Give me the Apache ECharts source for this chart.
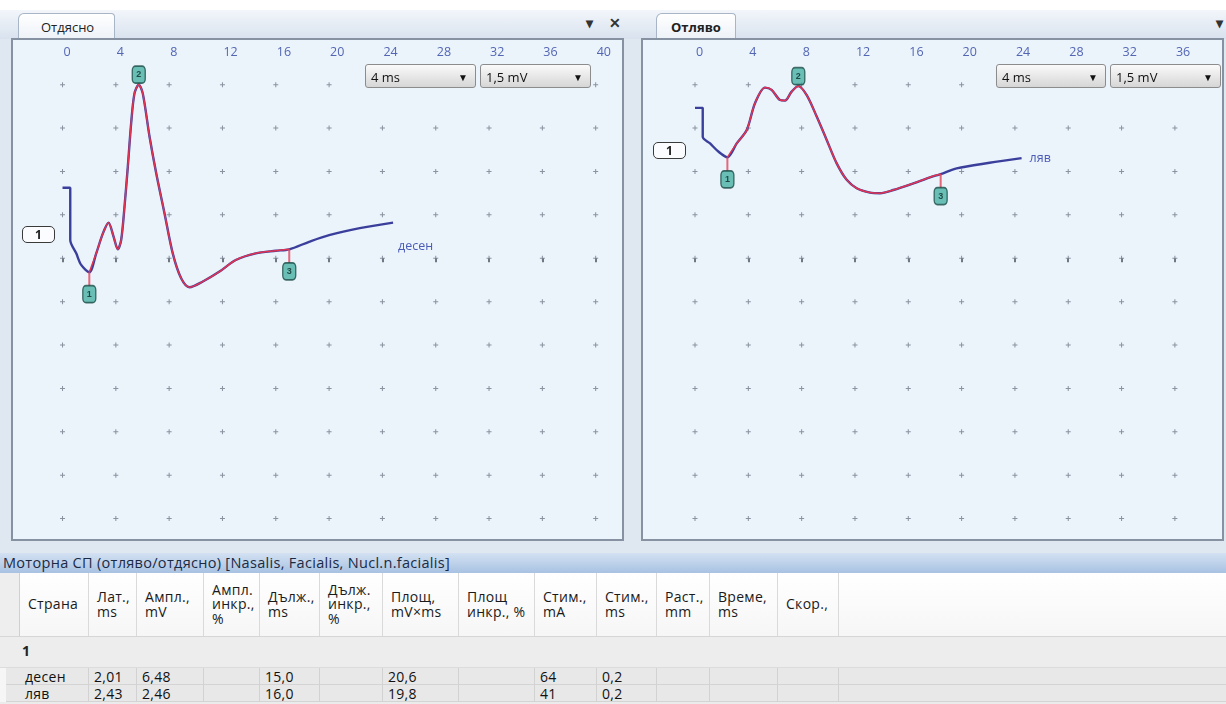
<!DOCTYPE html>
<html><head><meta charset="utf-8">
<script src="https://cdn.jsdelivr.net/npm/echarts@6/dist/echarts.min.js"></script>
<style>
body{margin:0;width:1226px;height:704px;overflow:hidden;position:relative;background:#fff;font-family:"Open Sans",sans-serif;}
.abs{position:absolute;}
#bg{left:0;top:10px;width:1226px;height:543px;background:#dfe7f1;}
#tabbar{left:0;top:10px;width:1226px;height:29px;background:linear-gradient(#f3f6fb,#d8e2ee);}
.tab{top:13px;height:26px;border:1px solid #a7b5c7;border-bottom:none;background:linear-gradient(#ffffff,#edf2f8);border-radius:6px 4px 0 0;font-size:13px;color:#222;line-height:26px;box-sizing:border-box;}
.icon{font-size:14px;color:#333;font-weight:bold;top:13px;}
#chart{left:0;top:0;width:1226px;height:545px;z-index:1;}
.dd{height:24px;border:1px solid #8c8c8c;border-radius:3px;background:linear-gradient(#fafafa,#d6d6d6);font-size:13px;color:#111;line-height:24px;box-sizing:border-box;padding-left:5px;z-index:3;}
.dd span{position:absolute;right:7px;top:0;font-size:10px;}
.lbl1{height:17px;border:1.5px solid #3a3a3a;border-radius:5px;background:#fafcff;font-size:12px;font-weight:bold;color:#222;text-align:center;line-height:15px;box-sizing:border-box;z-index:3;}
#hbar{left:0;top:553px;width:1226px;height:20px;background:linear-gradient(#d3e1f2,#a8c2e2);font-size:14.5px;letter-spacing:0.3px;color:#1b2a44;line-height:20px;padding-left:3px;box-sizing:border-box;white-space:nowrap;}
#thead{left:0;top:573px;width:1226px;height:64px;background:linear-gradient(#ffffff,#f6f6f6);border-bottom:1px solid #d6d6d6;box-sizing:border-box;}
#tbody{left:0;top:637px;width:1226px;height:67px;background:#ebebeb;}
.hc{top:0;height:63px;display:flex;align-items:center;white-space:pre-line;font-size:14px;letter-spacing:0.3px;line-height:14.5px;color:#1a1a1a;box-sizing:border-box;padding-left:8px;border-right:1px solid #dadada;}
.dc{height:17px;font-size:14px;letter-spacing:0.3px;line-height:17px;color:#111;padding-left:5px;box-sizing:border-box;border-right:1px solid #d2d2d2;white-space:nowrap;}
</style></head>
<body>
<div id="bg" class="abs"></div>
<div id="tabbar" class="abs"></div>
<div class="abs tab" style="left:18px;width:97px;padding-left:22px;">Отдясно</div>
<div class="abs icon" style="left:586px;">&#9662;</div>
<div class="abs icon" style="left:609px;">&#10005;</div>
<div class="abs tab" style="left:656px;width:80px;padding-left:14px;font-weight:bold;">Отляво</div>
<div class="abs icon" style="left:1216px;">&#9662;</div>
<div id="chart" class="abs"></div>
<div class="abs dd" style="left:365px;top:64px;width:111px;">4 ms<span>&#9660;</span></div>
<div class="abs dd" style="left:480px;top:64px;width:111px;">1,5 mV<span>&#9660;</span></div>
<div class="abs dd" style="left:996px;top:64px;width:110px;">4 ms<span>&#9660;</span></div>
<div class="abs dd" style="left:1110px;top:64px;width:111px;">1,5 mV<span>&#9660;</span></div>
<div class="abs lbl1" style="left:22px;top:226px;width:33px;">1</div>
<div class="abs lbl1" style="left:653px;top:142px;width:33px;">1</div>
<div id="hbar" class="abs"></div>
<div id="thead" class="abs"></div>
<div id="tbody" class="abs"></div>
<script>
// ---------- data ----------
const xTicks = [0, 4, 8, 12, 16, 20, 24, 28, 32, 36, 40];
const gridRowsMv = [6, 4.5, 3, 1.5, 0, -1.5, -3, -4.5, -6, -7.5, -9];
const rightColsMs = [0, 4, 8, 12, 16, 20, 24, 28, 32, 36];

const rightSideTime = [0, 0.58, 0.58, 1.03, 1.4, 2.01, 2.53, 3.03, 3.45, 3.83, 4.15, 4.4, 4.65, 4.9, 5.15, 5.4, 5.72, 6.02, 6.53, 7.03, 7.65, 8.27, 8.9, 9.53, 10.5, 11.78, 13.0, 14.5, 16.0, 17.01, 18.5, 20.0, 22.3, 24.8];
const rightSideMv   = [2.44, 2.44, 0.63, 0.17, -0.23, -0.48, 0.17, 0.86, 1.23, 0.75, 0.31, 0.63, 1.78, 3.17, 4.67, 5.7, 6.0, 5.7, 4.2, 2.94, 1.56, 0.17, -0.69, -1.0, -0.81, -0.46, -0.06, 0.17, 0.26, 0.31, 0.57, 0.8, 1.04, 1.23];
const leftSideTime  = [0, 0.58, 0.58, 1.13, 1.75, 2.43, 3.13, 3.88, 4.5, 5.25, 5.75, 6.38, 6.75, 7.25, 7.75, 8.38, 9.13, 9.88, 10.63, 11.38, 12.13, 13.13, 13.88, 14.88, 16.38, 17.63, 18.43, 19.63, 22.1, 24.5];
const leftSideMv    = [5.2, 5.2, 4.2, 3.97, 3.69, 3.49, 3.97, 4.43, 5.36, 5.9, 5.82, 5.47, 5.45, 5.76, 5.95, 5.64, 4.9, 4.09, 3.28, 2.71, 2.42, 2.27, 2.25, 2.36, 2.59, 2.8, 2.91, 3.11, 3.3, 3.46];

const markerNames = ['1', '2', '3'];
const rightMarkerTime = [2.01, 5.72, 17.01];
const rightMarkerMv   = [-0.48, 6.0, 0.31];
const leftMarkerTime  = [2.43, 7.75, 18.43];
const leftMarkerMv    = [3.49, 5.95, 2.91];

const tableTitle = 'Моторна СП (отляво/отдясно) [Nasalis, Facialis, Nucl.n.facialis]';
const tableHeaders = ['Страна', 'Лат.,\nms', 'Ампл.,\nmV', 'Ампл.\nинкр.,\n%', 'Дълж.,\nms', 'Дълж.\nинкр.,\n%', 'Площ,\nmV×ms', 'Площ\nинкр., %', 'Стим.,\nmA', 'Стим.,\nms', 'Раст.,\nmm', 'Време,\nms', 'Скор.,'];
const groupLabel = '1';
const rowRight = ['десен', '2,01', '6,48', '', '15,0', '', '20,6', '', '64', '0,2', '', '', ''];
const rowLeft  = ['ляв', '2,43', '2,46', '', '16,0', '', '19,8', '', '41', '0,2', '', '', ''];

// ---------- layout (not data) ----------
const colEdges = [20, 89, 137, 204, 260, 320, 383, 459, 535, 597, 657, 710, 778, 839];

// ---------- table ----------
document.getElementById('hbar').textContent = tableTitle;
const thead = document.getElementById('thead');
const tbody = document.getElementById('tbody');
const m1 = document.createElement('div');
m1.className = 'abs'; m1.style.cssText = 'left:0;top:0;width:20px;height:63px;background:#eeeeee;border-right:1px solid #d0d0d0;box-sizing:border-box;';
thead.appendChild(m1);
tableHeaders.forEach((h, i) => {
  const d = document.createElement('div');
  d.className = 'abs hc';
  d.style.left = colEdges[i] + 'px';
  d.style.width = (colEdges[i + 1] - colEdges[i]) + 'px';
  d.textContent = h;
  thead.appendChild(d);
});
const g = document.createElement('div');
g.className = 'abs'; g.style.cssText = 'left:0;top:0;width:1226px;height:31px;background:#ededed;font-size:14px;font-weight:bold;color:#222;line-height:28px;padding-left:22px;box-sizing:border-box;border-bottom:1px solid #dcdcdc;';
g.textContent = groupLabel;
tbody.appendChild(g);
[rowRight, rowLeft].forEach((row, r) => {
  const top = 31 + r * 17;
  const line = document.createElement('div');
  line.className = 'abs';
  line.style.cssText = `left:0;top:${top}px;width:1226px;height:17px;background:#e8e8e8;border-bottom:1px solid #d4d4d4;box-sizing:border-box;`;
  tbody.appendChild(line);
  const mm = document.createElement('div');
  mm.className = 'abs'; mm.style.cssText = `left:0;top:${top}px;width:6px;height:17px;background:#f6f6f6;`;
  tbody.appendChild(mm);
  row.forEach((v, i) => {
    const d = document.createElement('div');
    d.className = 'abs dc';
    d.style.left = colEdges[i] + 'px';
    d.style.top = top + 'px';
    d.style.width = (colEdges[i + 1] - colEdges[i]) + 'px';
    d.textContent = v;
    tbody.appendChild(d);
  });
});

// ---------- chart ----------
const chart = echarts.init(document.getElementById('chart'), null, { renderer: 'canvas' });
const zip = (a, b) => a.map((x, i) => [x, b[i]]);
const dotsFor = cols => { const out = []; cols.forEach(c => gridRowsMv.forEach(r => out.push([c, r]))); return out; };
const segment = (t, v, a, b) => zip(t, v).filter(p => p[0] >= a - 1e-9 && p[0] <= b + 1e-9);
const plus = 'path://M2,0h1v2h2v1h-2v2h-1v-2h-2v-1h2z';

function panelSeries(gi, cols, T, V, MT, MV, name, endOffset) {
  const below = [true, false, true];
  return [
    { type: 'scatter', xAxisIndex: gi, yAxisIndex: gi, silent: true, symbol: plus, symbolSize: 5,
      itemStyle: { color: '#6f7b88' }, data: dotsFor(cols), z: 1 },
    { type: 'line', name: name, xAxisIndex: gi, yAxisIndex: gi, data: zip(T, V), smooth: 0.3, symbol: 'none',
      lineStyle: { color: '#3b3f9c', width: 2.4 }, z: 2,
      endLabel: { show: true, formatter: name, color: '#4b5cb8', fontSize: 12.5, fontFamily: 'Open Sans', offset: endOffset } },
    { type: 'line', xAxisIndex: gi, yAxisIndex: gi, data: segment(T, V, MT[0], MT[2]), smooth: 0.3, symbol: 'none',
      lineStyle: { color: '#e23452', width: 1.5 }, z: 3, silent: true },
    { type: 'scatter', xAxisIndex: gi, yAxisIndex: gi, silent: true, z: 4, symbol: 'rect',
      itemStyle: { color: '#e2445d' },
      data: MT.map((t, i) => ({ value: [t, MV[i]], symbolSize: below[i] ? [2, 14] : [2, 3], symbolOffset: below[i] ? [0, 7] : [0, -1] })) },
    { type: 'scatter', xAxisIndex: gi, yAxisIndex: gi, silent: true, z: 5, symbol: 'roundRect', symbolSize: [13, 17],
      itemStyle: { color: '#48b2a5', borderColor: '#1b4c46', borderWidth: 1.5 },
      label: { show: true, position: 'inside', formatter: p => p.data.name, fontSize: 9, color: '#0c2a27', fontWeight: 'bold' },
      data: MT.map((t, i) => ({ name: markerNames[i], value: [t, MV[i]], symbolOffset: below[i] ? [0, 22] : [0, -10] })) }
  ];
}

function xAx(gi, min, max) {
  return { type: 'value', gridIndex: gi, position: 'top', min: min, max: max,
    axisLine: { show: false }, splitLine: { show: false },
    axisTick: { show: true, inside: true, length: 4, customValues: xTicks, lineStyle: { color: '#4a4f5a', width: 1.5 } },
    axisLabel: { show: true, inside: true, margin: 7, customValues: xTicks, color: '#5366b4', fontSize: 12.5,
      fontFamily: 'Open Sans', align: 'left', padding: [0, 0, 0, 1] } };
}
function yAx(gi) { return { type: 'value', gridIndex: gi, min: -9.74, max: 7.58, show: false }; }

chart.setOption({
  animation: false,
  grid: [
    { left: 12, top: 39, width: 611, height: 501, show: true, backgroundColor: '#ebf3fb', borderColor: '#8692a1', borderWidth: 2 },
    { left: 642, top: 39, width: 581, height: 501, show: true, backgroundColor: '#ebf3fb', borderColor: '#8692a1', borderWidth: 2 }
  ],
  xAxis: [xAx(0, -3.79, 42.05), xAx(1, -3.976, 39.61)],
  yAxis: [yAx(0), yAx(1)],
  series: [
    ...panelSeries(0, xTicks, rightSideTime, rightSideMv, rightMarkerTime, rightMarkerMv, 'десен', [-3, 24]),
    ...panelSeries(1, rightColsMs, leftSideTime, leftSideMv, leftMarkerTime, leftMarkerMv, 'ляв', [0, 0])
  ]
});
</script>
</body></html>
